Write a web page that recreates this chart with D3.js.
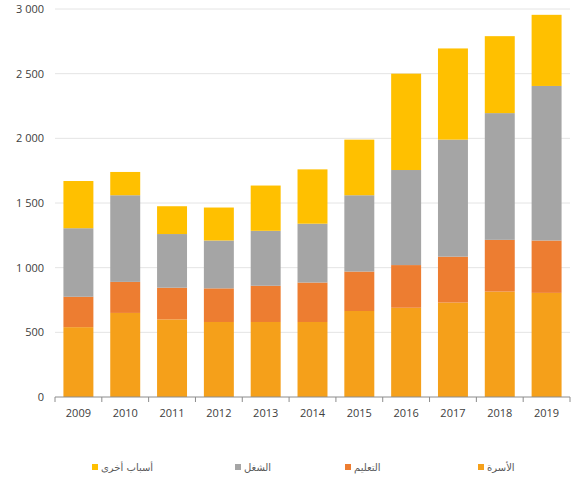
<!DOCTYPE html>
<html>
<head>
<meta charset="utf-8">
<script src="https://cdn.jsdelivr.net/npm/d3@7"></script>
<style>
  body { margin: 0; background: #fff; }
  .axis text { font-family: "Open Sans", sans-serif; font-size: 11px; fill: #404040; }
  .legend text { font-family: "DejaVu Sans", sans-serif; font-size: 10px; fill: #595959; }
</style>
</head>
<body>
<svg id="chart" width="571" height="480"></svg>
<script>
// data
const years = ["2009", "2010", "2011", "2012", "2013", "2014", "2015", "2016", "2017", "2018", "2019"];
const family = [540, 650, 600, 580, 580, 580, 665, 690, 730, 815, 805];
const education = [235, 240, 245, 260, 280, 305, 305, 330, 355, 400, 405];
const work = [530, 670, 415, 370, 425, 455, 590, 735, 905, 980, 1195];
const other = [365, 180, 215, 255, 350, 420, 430, 745, 705, 595, 550];
const seriesNames = ["الأسرة", "التعليم", "الشغل", "أسباب أخرى"];
const yTicks = [0, 500, 1000, 1500, 2000, 2500, 3000];

const colors = ["#F5A01A", "#ED7D31", "#A5A5A5", "#FFC000"];

var svg = d3.select("#chart");
var margin = {top: 9, right: 1, bottom: 83, left: 55};
var width = 571 - margin.left - margin.right;
var height = 480 - margin.top - margin.bottom;

var rows = years.map((y, i) => ({
  year: y, s0: family[i], s1: education[i], s2: work[i], s3: other[i]
}));
var stack = d3.stack().keys(["s0", "s1", "s2", "s3"]);
var layers = stack(rows);

var x = d3.scaleBand().domain(years).range([0, width]).paddingInner(0.36).paddingOuter(0.18);
var y = d3.scaleLinear().domain([0, 3000]).range([height, 0]);

var g = svg.append("g")
    .attr("transform", "translate(" + margin.left + "," + margin.top + ")");

// gridlines
g.append("g").selectAll("line")
    .data(yTicks.slice(1))
    .enter().append("line")
      .attr("x1", 0).attr("x2", width)
      .attr("y1", d => y(d)).attr("y2", d => y(d))
      .attr("stroke", "#e4e4e4").attr("stroke-width", 1);

var locale = d3.formatLocale({decimal: ",", thousands: " ", grouping: [3], currency: ["", ""]});
var yAxis = d3.axisLeft(y).tickValues(yTicks).tickFormat(locale.format(",d")).tickSize(0).tickPadding(11);
g.append("g")
    .attr("class", "axis axis--y")
    .call(yAxis)
    .call(s => s.select(".domain").remove());

g.selectAll(".layer")
    .data(layers)
    .enter().append("g")
      .attr("class", "layer")
      .attr("fill", (d, i) => colors[i])
    .selectAll("rect")
    .data(d => d)
    .enter().append("rect")
      .attr("x", d => x(d.data.year))
      .attr("width", x.bandwidth())
      .attr("y", d => y(d[1]))
      .attr("height", d => y(d[0]) - y(d[1]));

// x axis with ticks between categories
var xa = g.append("g")
    .attr("class", "axis axis--x")
    .attr("transform", "translate(0," + height + ")");
xa.append("line").attr("x1", 0).attr("x2", width).attr("stroke", "#8c8c8c");
var step = x.step();
xa.selectAll(".sep")
    .data(d3.range(years.length + 1))
    .enter().append("line")
      .attr("x1", i => i * step).attr("x2", i => i * step)
      .attr("y1", 0).attr("y2", 5)
      .attr("stroke", "#8c8c8c");
xa.selectAll("text")
    .data(years)
    .enter().append("text")
      .attr("x", d => x(d) + x.bandwidth() / 2)
      .attr("y", 20)
      .attr("text-anchor", "middle")
      .text(d => d);

// legend: left to right other, work, education, family
var legendX = [92, 235, 345, 478];
var legend = svg.append("g").attr("class", "legend");
var order = [3, 2, 1, 0];
order.forEach((si, k) => {
  legend.append("rect")
    .attr("x", legendX[k]).attr("y", 464)
    .attr("width", 6).attr("height", 6)
    .attr("fill", colors[si]);
  legend.append("text")
    .attr("x", legendX[k] + 9).attr("y", 470.5)
    .attr("text-anchor", "start")
    .text(seriesNames[si]);
});
</script>
</body>
</html>
